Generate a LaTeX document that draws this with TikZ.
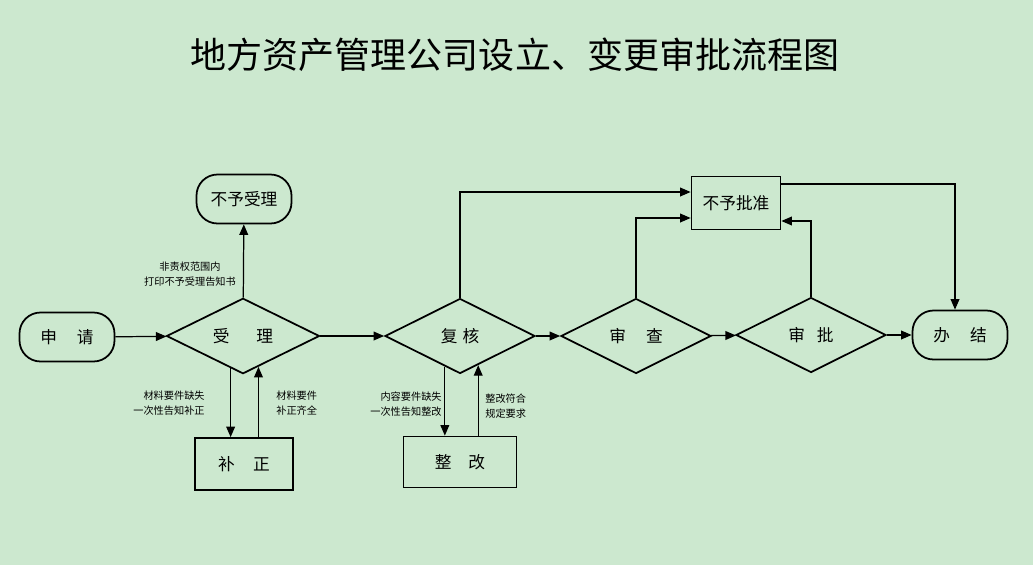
\documentclass[tikz,border=0pt]{standalone}
\usepackage{fontspec}
\setmainfont{Noto Sans CJK SC}
\usepackage{tikz}
\usetikzlibrary{calc,arrows.meta,shapes.geometric}
\definecolor{eyegreen}{RGB}{204,232,207}
\newcommand{\boxcolor}{black}
\newcommand{\thickness}{1pt}
\newcommand{\gap}{1.2em}

\begin{document}
\begin{tikzpicture}[x=0.02cm,y=-0.02cm,
  every node/.style={font=\fontsize{9.5}{11}\selectfont},
  term/.style={draw=\boxcolor, line width=\thickness, rectangle, rounded corners=0.42cm, minimum width=1.9cm, minimum height=0.98cm, inner sep=0},
  proc/.style={draw=\boxcolor, line width=\thickness, rectangle, minimum height=1.04cm, inner sep=0},
  judge/.style={draw=\boxcolor, line width=\thickness, diamond, minimum width=3cm, minimum height=1.5cm, inner sep=0},
  arr/.style={line width=0.7pt, -{Triangle[length=6pt,width=5pt]}},
  note/.style={font=\fontsize{5.8}{8.6}\selectfont, inner sep=0}]
\fill[eyegreen] (0,0) rectangle (1033,565);
\node (title) at (515,55) {\fontsize{20.5}{24}\selectfont 地方资产管理公司设立、变更审批流程图};
% nodes
\node[term] (shenqing) at (67,337) {申\hspace{\gap}请};
\node[judge, minimum width=3.06cm] (shouli) at (243,336) {受\hspace{1.6em}理};
\node[term] (buyushouli) at (244,199) {不予受理};
\node[proc, minimum width=1.96cm] (buzheng) at (244,464) {补\hspace{1.1em}正};
\node[judge] (fuhe) at (460,336) {复\hspace{0.3em}核};
\node[proc, minimum width=2.26cm, minimum height=1.02cm] (zhenggai) at (460,462) {整\hspace{1em}改};
\node[judge] (shencha) at (636,336) {审\hspace{\gap}查};
\node[judge] (shenpi) at (811,335) {审\hspace{0.7em}批};
\node[proc, minimum width=1.78cm, minimum height=1.06cm] (buyupizhun) at (736,203) {不予批准};
\node[term] (banjie) at (960,335) {办\hspace{\gap}结};
% main line
\draw[arr] (shenqing) -- (shouli);
\draw[arr] (shouli) -- (fuhe);
\draw[arr] (fuhe) -- (shencha);
\draw[arr] (shencha) -- (shenpi);
\draw[arr] (shenpi) -- (banjie);
\draw[arr] (shouli) -- (buyushouli);
% back and forth
\coordinate (a1) at ($(shouli.south)!0.16!(shouli.west)$);
\coordinate (a2) at ($(shouli.south)!0.2!(shouli.east)$);
\draw[arr] (a1) -- (a1 |- buzheng.north);
\draw[arr] (a2 |- buzheng.north) -- (a2);
\coordinate (b1) at ($(fuhe.south)!0.2!(fuhe.west)$);
\coordinate (b2) at ($(fuhe.south)!0.24!(fuhe.east)$);
\draw[arr] (b1) -- (b1 |- zhenggai.north);
\draw[arr] (b2 |- zhenggai.north) -- (b2);
% refusals
\draw[arr] (fuhe.north) |- ([yshift=0.22cm]buyupizhun.west);
\draw[arr] (shencha.north) |- ([yshift=-0.3cm]buyupizhun.west);
\draw[arr] (shenpi.north) |- ([yshift=-0.36cm]buyupizhun.east);
\draw[arr] ([yshift=0.38cm]buyupizhun.east) -| ([xshift=-0.1cm]banjie.north);
% notes
\node[note, align=center] (n1) at (190,274) {非责权范围内\\打印不予受理告知书};
\node[note, align=right, anchor=east] (n2) at (205,403) {材料要件缺失\\一次性告知补正};
\node[note, align=left, anchor=west] (n3) at (276,403) {材料要件\\补正齐全};
\node[note, align=right, anchor=east] (n4) at (442,404) {内容要件缺失\\一次性告知整改};
\node[note, align=left, anchor=west] (n5) at (485,406) {整改符合\\规定要求};
\end{tikzpicture}
\end{document}
